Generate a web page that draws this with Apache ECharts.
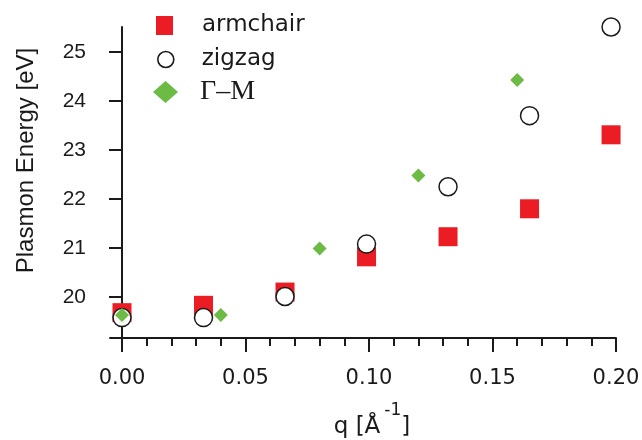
<!DOCTYPE html>
<html><head><meta charset="utf-8">
<script src="https://cdn.jsdelivr.net/npm/echarts@6/dist/echarts.min.js"></script>
<style>html,body{margin:0;padding:0;background:#fff}#c{width:642px;height:440px}</style>
</head><body><div id="c"></div>
<script>
const q = [0, 0.033, 0.066, 0.099, 0.132, 0.165, 0.198];
const armchair = [19.68, 19.83, 20.10, 20.82, 21.23, 21.80, 23.31];
const zigzag = [19.58, 19.58, 20.01, 21.08, 22.25, 23.70, 25.51];
const qGM = [0, 0.04, 0.08, 0.12, 0.16];
const gammaM = [19.63, 19.63, 20.99, 22.48, 24.43];
const xTicks = [0, 0.05, 0.10, 0.15, 0.20];
const xMinorTicks = [0.01,0.02,0.03,0.04,0.06,0.07,0.08,0.09,0.11,0.12,0.13,0.14,0.16,0.17,0.18,0.19];
const yTicks = [20, 21, 22, 23, 24, 25];
const names = ['armchair', 'zigzag', 'Γ–M'];
const xTitle = '{b|q [Å}{s|-1}{b|]}';
const yTitle = 'Plasmon Energy [eV]';

const RED = '#ec1c24', GREEN = '#6cbb45', INK = '#1a1a1a';
const sans = 'DejaVu Sans';
const zip = (xs, ys) => xs.map((x, i) => [x, ys[i]]);

const xMin = -0.00486, xMax = 0.2, yMin = 19.163, yMax = 25.51;

const chart = echarts.init(document.getElementById('c'), null, {renderer: 'canvas'});
chart.setOption({
  animation: false,
  backgroundColor: '#fff',
  grid: {left: 110, right: 26, top: 27, bottom: 102, containLabel: false, outerBoundsMode: 'none'},
  legend: [
    {data: [names[0]], orient: 'vertical', padding: 0, left: 156, top: 14, icon: 'rect', itemWidth: 17, itemHeight: 19,
     itemStyle: {color: RED, opacity: 1},
     textStyle: {fontFamily: sans, fontSize: 23, color: INK, padding: [0, 0, 0, 24]}, selectedMode: false},
    {data: [names[1]], orient: 'vertical', padding: 0, left: 157, top: 48, icon: 'circle', itemWidth: 16, itemHeight: 16,
     itemStyle: {color: '#fff', borderColor: INK, borderWidth: 1.6, opacity: 1},
     textStyle: {fontFamily: sans, fontSize: 23, color: INK, padding: [0, 0, 0, 23]}, selectedMode: false},
    {data: [names[2]], orient: 'vertical', padding: 0, left: 153, top: 78, icon: 'diamond', itemWidth: 25, itemHeight: 22,
     itemStyle: {color: GREEN, opacity: 1},
     textStyle: {fontFamily: 'Liberation Serif', fontSize: 28, color: INK, padding: [0, 0, 0, 17]}, selectedMode: false}
  ],
  xAxis: [
    {type: 'value', min: xMin, max: xMax, position: 'bottom',
     axisLine: {show: true, lineStyle: {color: INK, width: 2}},
     axisTick: {show: true, length: 14, lineStyle: {color: INK, width: 2}, customValues: xTicks},
     axisLabel: {show: true, customValues: xTicks, margin: 30, fontFamily: sans, fontSize: 21, color: INK,
                 formatter: v => v.toFixed(2)},
     splitLine: {show: false},
     name: xTitle, nameLocation: 'middle', nameGap: 64,
     nameTextStyle: {color: INK, padding: [0, 0, 0, 18],
       rich: {b: {fontFamily: sans, fontSize: 23, color: INK, verticalAlign: 'bottom', padding: [14, 0, 0, 0]},
              s: {fontFamily: sans, fontSize: 17, color: INK, verticalAlign: 'top', padding: [0, 0, 0, 4]}}}},
    {type: 'value', min: xMin, max: xMax, position: 'bottom',
     axisLine: {show: false}, axisLabel: {show: false}, splitLine: {show: false},
     axisTick: {show: true, length: 8, lineStyle: {color: INK, width: 2}, customValues: xMinorTicks}}
  ],
  yAxis: {type: 'value', min: yMin, max: yMax,
    axisLine: {show: true, lineStyle: {color: INK, width: 2}},
    axisTick: {show: true, length: 13, lineStyle: {color: INK, width: 2}, customValues: yTicks},
    axisLabel: {show: true, customValues: yTicks, margin: 24, fontFamily: 'Liberation Sans', fontSize: 21, color: INK},
    splitLine: {show: false},
    name: yTitle, nameLocation: 'middle', nameGap: 72,
    nameTextStyle: {fontFamily: 'Liberation Sans', fontSize: 24, color: INK, padding: [0, 0, 0, 44]}},
  series: [
    {name: names[0], type: 'scatter', xAxisIndex: 0, clip: false, symbol: 'rect', symbolSize: 19,
     itemStyle: {color: RED, opacity: 1}, data: zip(q, armchair), z: 2},
    {name: names[1], type: 'scatter', xAxisIndex: 0, clip: false, symbol: 'circle', symbolSize: 18,
     itemStyle: {color: '#fff', borderColor: INK, borderWidth: 1.5, opacity: 1}, data: zip(q, zigzag), z: 3},
    {name: names[2], type: 'scatter', xAxisIndex: 0, clip: false, symbol: 'diamond', symbolSize: 14,
     itemStyle: {color: GREEN, opacity: 1}, data: zip(qGM, gammaM), z: 4}
  ]
});
</script></body></html>
